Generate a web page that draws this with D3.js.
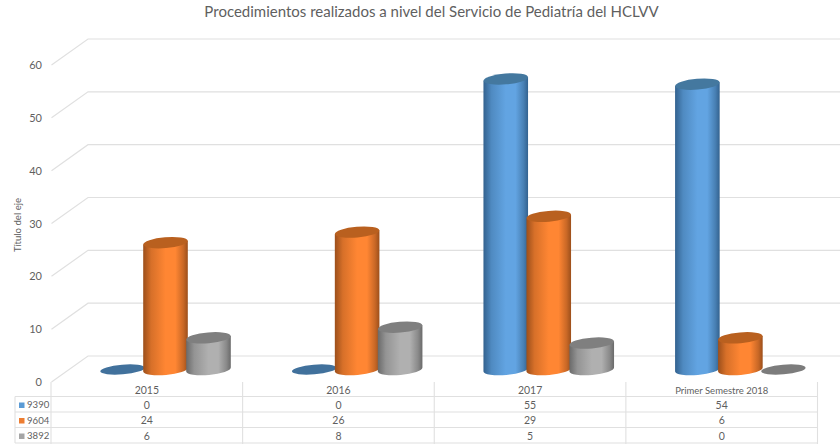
<!DOCTYPE html>
<html><head><meta charset="utf-8">
<script src="https://cdnjs.cloudflare.com/ajax/libs/d3/7.8.5/d3.min.js"></script>
<style>html,body{margin:0;padding:0;background:#fff}svg{display:block}text{font-family:Lato,"Open Sans",sans-serif;fill:#5f5f5f}</style>
</head><body><svg id="c" width="840" height="444"></svg>
<script>
const categories=["2015","2016","2017","Primer Semestre 2018"];
const seriesNames=["9390","9604","3892"];
const s9390=[0,0,55,54];
const s9604=[24,26,29,6];
const s3892=[6,8,5,0];
const seriesValues=[s9390,s9604,s3892];
const yTicks=[0,10,20,30,40,50,60];
const title="Procedimientos realizados a nivel del Servicio de Pediatría del HCLVV";
const axisTitle="Título del eje";
const colors=[
 {key:"#5b9bd5",edge:"#33628f",mid:"#62a4e2",top:"#44789f",flat:"#41719c"},
 {key:"#ed7d31",edge:"#9c4f1b",mid:"#ff8633",top:"#b9601f",flat:"#ae5a21"},
 {key:"#a5a5a5",edge:"#6a6a6a",mid:"#b0b0b0",top:"#7f7f7f",flat:"#7c7c7c"}];

const svg=d3.select("#c");
const W=840;
const front={x:51.5,dy:0}, back={x:88,dy:-26};
const yFront=d3.scaleLinear().domain([0,60]).range([382,65]);
const xCat=d3.scaleBand().domain(categories).range([51,817.5]);
const xSer=d3.scaleBand().domain(seriesNames).range([0,129]);
const yBar=d3.scaleLinear().domain([0,60]).range([369.5,52.5]);

// gradients
const defs=svg.append("defs");
colors.forEach((c,i)=>{
  const g=defs.append("linearGradient").attr("id","g"+i);
  [[0,c.edge],[.18,d3.interpolateRgb(c.edge,c.mid)(.6)],[.5,c.mid],[.72,c.mid],[.9,d3.interpolateRgb(c.edge,c.mid)(.45)],[1,c.edge]]
   .forEach(s=>g.append("stop").attr("offset",s[0]).attr("stop-color",s[1]));
});

// walls
const grid=svg.append("g").attr("fill","none").attr("stroke","#e0e0e0");
yTicks.forEach(t=>{
  const y=yFront(t);
  grid.append("path").attr("stroke-width",1.2)
   .attr("d",d3.line()([[front.x,y],[back.x,y+back.dy],[W,y+back.dy]]));
});

// value axis
const ax=svg.append("g").attr("transform","translate(47,0)")
  .call(d3.axisLeft(yFront).tickValues(yTicks).tickSize(0).tickPadding(5));
ax.select(".domain").remove();
ax.selectAll("text").style("font-size","11px").style("font-family","Lato,sans-serif").style("fill","#5f5f5f");
svg.append("text").attr("transform","translate(21,225) rotate(-90)").attr("text-anchor","middle")
  .style("font-size","9.6px").text(axisTitle);
svg.append("text").attr("x",431.5).attr("y",17).attr("text-anchor","middle")
  .style("font-size","15px").text(title);

// cylinders
const rx=22.3, ry=5.4, tilt=1.9;
const rot=-4.8;
const bars=svg.append("g");
seriesNames.forEach((s,i)=>{
  categories.forEach((cat,j)=>{
    const v=seriesValues[i][j];
    const cx=xCat(cat)+50+xSer(s)+xSer.bandwidth()/2;
    const yt=yBar(v), yb=yBar(0);
    const c=colors[i];
    if(v===0){
      bars.append("ellipse").attr("cx",cx).attr("cy",yb).attr("rx",rx).attr("ry",ry-.6)
       .attr("transform",`rotate(${rot} ${cx} ${yb})`).attr("fill",c.flat);
      return;
    }
    bars.append("path").attr("fill",`url(#g${i})`)
      .attr("d",`M${cx-rx},${yt+tilt}L${cx-rx},${yb+tilt}A${rx},${ry} ${rot} 0 0 ${cx+rx},${yb-tilt}L${cx+rx},${yt-tilt}Z`);
    bars.append("ellipse").attr("cx",cx).attr("cy",yt).attr("rx",rx).attr("ry",ry)
      .attr("transform",`rotate(${rot} ${cx} ${yt})`).attr("fill",c.top);
  });
});

// data table
const rowY=d3.scalePoint().domain(["h",...seriesNames]).range([389.5,436]);
const tbl=svg.append("g").attr("stroke","#e0e0e0").attr("fill","none").attr("stroke-width",1.1);
[396.5,412,427.5,443].forEach(y=>tbl.append("line").attr("x1",15).attr("x2",817).attr("y1",y).attr("y2",y));
tbl.append("line").attr("x1",15).attr("x2",15).attr("y1",396.5).attr("y2",443);
[...categories.map(c=>xCat(c)),xCat.range()[1]].forEach(x=>tbl.append("line").attr("x1",x).attr("x2",x).attr("y1",382).attr("y2",444));
const mid=c=>xCat(c)+xCat.bandwidth()/2;
categories.forEach(c=>svg.append("text").attr("x",mid(c)).attr("y",rowY("h")+1).attr("dy",".35em")
  .attr("text-anchor","middle").style("font-size",c.length>6?"9.5px":"10.5px").text(c));
seriesNames.forEach((s,i)=>{
  const y=rowY(s);
  svg.append("rect").attr("x",19).attr("y",y-2.5).attr("width",5.5).attr("height",5.5).attr("fill",colors[i].key);
  svg.append("text").attr("x",27).attr("y",y).attr("dy",".35em").style("font-size","9.6px").text(s);
  categories.forEach((c,j)=>svg.append("text").attr("x",mid(c)).attr("y",y).attr("dy",".35em")
    .attr("text-anchor","middle").style("font-size","10.5px").text(seriesValues[i][j]));
});
</script></body></html>
